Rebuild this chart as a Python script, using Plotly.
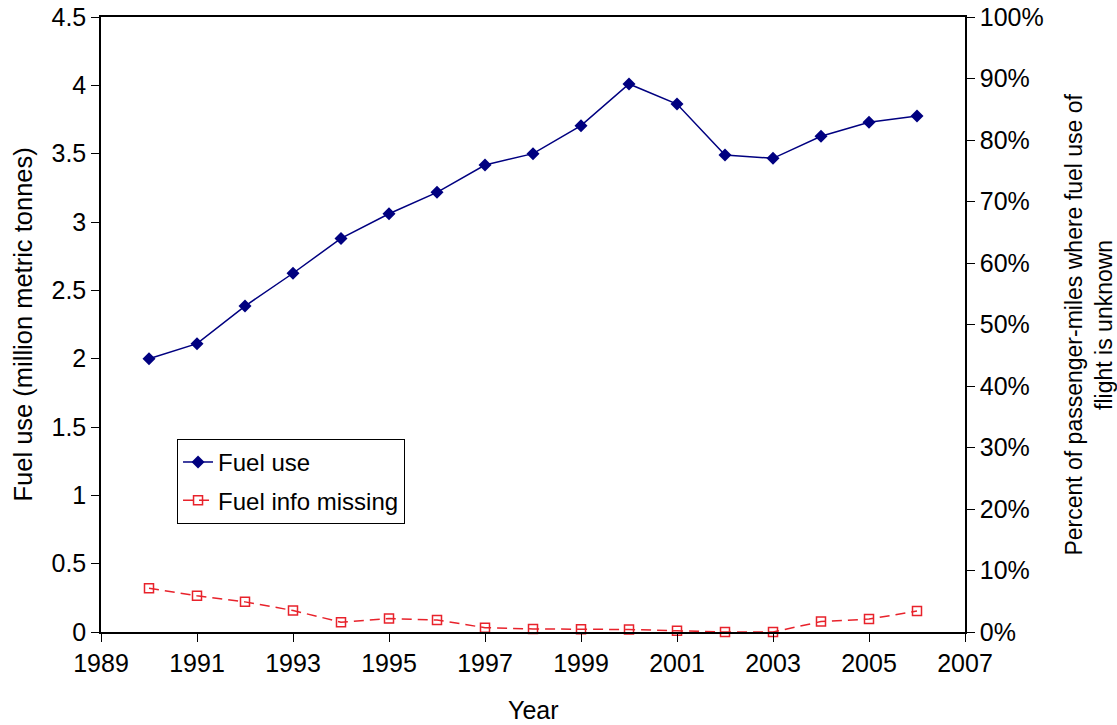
import plotly.graph_objects as go

years = list(range(1990, 2007))
fuel_use = [2.00, 2.11, 2.385, 2.625, 2.88, 3.06, 3.217, 3.417, 3.50, 3.705, 4.01, 3.863, 3.49, 3.466, 3.627, 3.73, 3.776]
fuel_missing = [0.071, 0.059, 0.049, 0.035, 0.016, 0.022, 0.0195, 0.007, 0.005, 0.0043, 0.004, 0.002, 0.0, 0.0, 0.017, 0.021, 0.034]

FONT = "Liberation Sans, Arial, sans-serif"
TF = 25

fig = go.Figure()
fig.add_trace(go.Scatter(
    x=years, y=fuel_use, name="Fuel use", mode="lines+markers", legendgroup="a",
    line=dict(color="#000080", width=1.5),
    marker=dict(symbol="diamond", size=10, color="#000080"),
    cliponaxis=False, yaxis="y"))
fig.add_trace(go.Scatter(
    x=years, y=fuel_missing, name="Fuel info missing", mode="lines+markers", legendgroup="b",
    line=dict(color="#e8222b", width=1.5, dash="10px,6px"),
    marker=dict(symbol="square-open", size=9, color="#e8222b", line=dict(width=1.5)),
    cliponaxis=False, yaxis="y2"))

fig.update_layout(
    width=1117, height=725,
    margin=dict(l=101, r=152, t=17, b=93),
    paper_bgcolor="white", plot_bgcolor="white",
    font=dict(family=FONT, size=TF, color="black"),
    showlegend=True,
    legend=dict(x=0.088, y=0.314, xanchor="left", yanchor="top",
                bordercolor="black", borderwidth=1, bgcolor="white",
                tracegroupgap=4, font=dict(size=24)),
    xaxis=dict(range=[1989, 2007], tick0=1989, dtick=2, showgrid=False, zeroline=False,
               showline=True, linecolor="black", linewidth=1.5, mirror=True,
               ticks="outside", ticklen=8, tickcolor="black", automargin=False,
               ticklabeloverflow="allow", tickfont=dict(size=TF)),
    yaxis=dict(range=[0, 4.5], dtick=0.5, showgrid=False, zeroline=False,
               showline=True, linecolor="black", linewidth=1.5, automargin=False,
               ticks="outside", ticklen=8, tickcolor="black",
               ticklabeloverflow="allow", tickfont=dict(size=TF)),
    yaxis2=dict(range=[0, 1], dtick=0.1, tickformat=".0%", overlaying="y", side="right",
                showgrid=False, zeroline=False, automargin=False,
                showline=True, linecolor="black", linewidth=1.5,
                ticks="outside", ticklen=8, tickcolor="black",
                ticklabeloverflow="allow", tickfont=dict(size=TF)),
    yaxis3=dict(range=[0, 1], dtick=0.1, overlaying="y", side="right", anchor="x",
                showgrid=False, zeroline=False, showline=False, showticklabels=False,
                automargin=False, ticks="inside", ticklen=8, tickcolor="black"),
    annotations=[
        dict(text="Year", xref="paper", yref="paper", x=0.5, y=-0.127,
             showarrow=False, font=dict(size=TF), xanchor="center", yanchor="middle"),
        dict(text="Fuel use (million metric tonnes)", xref="paper", yref="paper",
             x=-0.0914, y=0.5, textangle=-90, showarrow=False, font=dict(size=25.5),
             xanchor="center", yanchor="middle"),
        dict(text="Percent of passenger-miles where fuel use of<br>flight is unknown",
             xref="paper", yref="paper", x=1.1425, y=0.5, textangle=-90,
             showarrow=False, font=dict(size=23), xanchor="center", yanchor="middle"),
    ],
)

fig.write_html("out.html", config={"displayModeBar": False},
               post_script="document.body.style.margin='0';document.body.style.overflow='hidden';")
